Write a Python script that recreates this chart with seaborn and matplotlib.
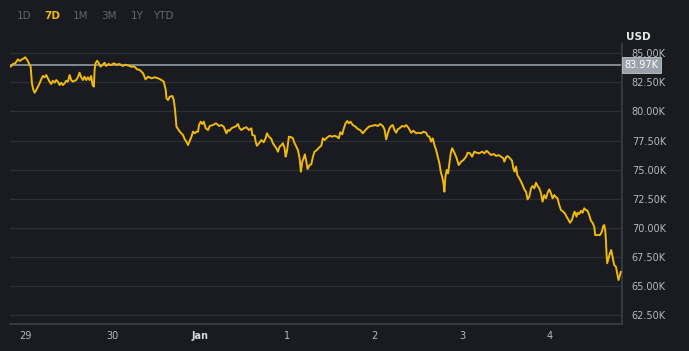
import numpy as np
import pandas as pd
import matplotlib
matplotlib.use("Agg")
import matplotlib.pyplot as plt
import matplotlib.transforms as mtransforms
import seaborn as sns

# Hours since the "29" tick, and price in thousands of USD
hours = [
    -3.92, -3.29, -2.66, -1.92, -1.37, -0.82, -0.27, 0.08, 0.63, 1.10,
    1.56, 1.92, 2.27, 2.66, 3.10, 3.56, 4.03, 4.47, 4.93, 5.40,
    5.84, 6.30, 6.77, 7.21, 7.67, 8.14, 8.58, 9.04, 9.51, 9.95,
    10.41, 10.88, 11.32, 11.78, 12.25, 12.69, 13.15, 13.62, 14.06, 14.52,
    14.99, 15.43, 15.89, 16.36, 16.80, 17.26, 17.73, 18.17, 18.55, 18.91,
    19.10, 19.37, 19.81, 20.28, 20.74, 21.18, 21.84, 22.28, 22.93, 23.65,
    24.39, 25.02, 25.95, 26.85, 27.48, 28.22, 29.13, 30.06, 30.77, 31.51,
    32.41, 33.07, 33.78, 34.72, 35.62, 36.52, 37.46, 38.09, 38.63, 38.83,
    39.26, 39.73, 40.47, 40.83, 41.18, 41.57, 42.47, 43.37, 43.84, 44.31,
    44.74, 45.21, 45.68, 46.11, 46.58, 47.05, 47.48, 47.76, 48.22, 48.69,
    49.05, 49.59, 50.22, 50.69, 51.59, 52.33, 52.69, 53.24, 53.90, 54.53,
    55.27, 55.70, 56.17, 56.64, 57.27, 58.01, 58.44, 58.91, 59.38, 60.01,
    60.75, 61.46, 62.12, 62.39, 63.02, 63.29, 63.65, 64.20, 64.86, 65.49,
    66.03, 66.39, 66.94, 67.60, 68.03, 68.50, 68.97, 69.40, 69.87, 70.34,
    70.77, 71.24, 71.51, 71.87, 72.42, 73.08, 73.51, 73.98, 74.45, 74.88,
    75.35, 75.71, 76.09, 76.45, 76.80, 77.19, 77.54, 78.09, 78.56, 79.00,
    79.46, 80.09, 80.64, 81.30, 81.73, 82.20, 82.83, 83.57, 84.31, 84.94,
    85.57, 86.12, 86.50, 87.05, 87.49, 87.95, 88.42, 88.86, 89.33, 89.95,
    90.69, 91.32, 91.98, 92.69, 93.43, 94.34, 95.27, 96.17, 96.80, 97.46,
    98.17, 98.64, 99.11, 99.54, 100.01, 100.47, 100.91, 101.38, 101.85, 102.28,
    102.75, 103.49, 104.12, 104.59, 105.30, 105.96, 106.59, 107.33, 108.04, 108.70,
    109.33, 110.07, 110.50, 110.97, 111.44, 111.87, 112.34, 112.81, 113.24, 113.71,
    114.07, 114.45, 114.81, 115.08, 115.35, 115.71, 116.09, 116.45, 116.81, 117.19,
    117.55, 118.09, 118.45, 119.00, 119.66, 120.29, 121.03, 121.46, 122.12, 122.67,
    123.30, 123.93, 124.67, 125.41, 126.04, 126.67, 127.22, 127.88, 128.59, 129.25,
    129.96, 130.62, 131.25, 131.52, 131.99, 132.42, 133.08, 133.63, 133.99, 134.34,
    134.73, 135.08, 135.63, 136.10, 136.53, 137.00, 137.46, 137.90, 138.37, 138.84,
    139.27, 139.74, 140.21, 140.64, 141.11, 141.58, 142.01, 142.48, 142.95, 143.38,
    143.85, 144.32, 144.75, 145.22, 145.69, 146.12, 146.59, 147.06, 147.69, 148.23,
    148.59, 149.14, 149.52, 150.07, 150.43, 150.78, 151.33, 151.60, 152.07, 152.54,
    152.97, 153.44, 153.91, 154.34, 154.81, 155.28, 155.71, 156.18, 156.45, 157.08,
    157.74, 158.29, 158.65, 158.92, 159.19, 159.39, 159.55, 159.74, 160.10, 160.48,
    160.84, 161.19, 161.66, 162.13, 162.57, 162.84, 163.23, 163.50,
]
price_k = [
    83.85, 84.08, 84.14, 84.48, 84.34, 84.48, 84.57, 84.66, 84.42, 84.14,
    83.85, 82.42, 81.90, 81.61, 81.84, 82.13, 82.42, 82.76, 83.05, 82.94,
    83.13, 82.85, 82.56, 82.36, 82.64, 82.47, 82.70, 82.56, 82.27, 82.47,
    82.27, 82.42, 82.64, 82.56, 83.13, 82.70, 82.56, 82.64, 82.70, 82.94,
    83.33, 82.94, 82.70, 82.99, 82.70, 82.94, 82.70, 83.05, 82.27, 82.13,
    83.56, 84.14, 84.36, 84.14, 83.85, 83.99, 84.19, 83.91, 84.08, 83.99,
    84.14, 84.02, 84.08, 83.91, 84.02, 83.97, 83.85, 83.85, 83.62, 83.56,
    83.28, 82.76, 82.99, 82.85, 82.94, 82.85, 82.70, 82.56, 81.84, 81.13,
    80.98, 81.27, 81.33, 80.98, 80.12, 78.69, 78.26, 77.97, 77.60, 77.41,
    77.11, 77.48, 77.83, 78.26, 78.12, 78.26, 78.26, 78.83, 79.12, 78.92,
    79.12, 78.55, 78.40, 78.75, 78.83, 78.98, 78.92, 78.75, 78.83, 78.69,
    78.12, 78.40, 78.34, 78.55, 78.64, 78.75, 78.92, 78.55, 78.40, 78.55,
    78.64, 78.40, 78.55, 77.97, 77.91, 77.40, 77.05, 77.26, 77.54, 77.35,
    77.69, 78.12, 77.83, 77.63, 77.26, 77.05, 76.83, 76.54, 76.97, 77.11,
    77.26, 76.83, 76.11, 76.54, 77.83, 77.78, 77.69, 77.26, 76.97, 76.68,
    75.97, 74.82, 75.68, 75.97, 76.31, 75.68, 75.05, 75.39, 75.45, 76.11,
    76.54, 76.68, 76.88, 77.05, 77.69, 77.54, 77.74, 77.91, 77.83, 77.91,
    77.83, 77.69, 78.21, 78.03, 78.55, 78.98, 79.18, 78.98, 79.12, 78.83,
    78.69, 78.49, 78.40, 78.12, 78.40, 78.69, 78.77, 78.83, 78.75, 78.92,
    78.75, 78.46, 77.60, 78.12, 78.55, 78.75, 78.83, 78.40, 78.17, 78.46,
    78.55, 78.75, 78.69, 78.83, 78.55, 78.17, 78.34, 78.12, 78.17, 78.12,
    78.26, 78.17, 77.89, 77.83, 77.40, 77.69, 77.11, 76.68, 76.11, 75.54,
    74.82, 74.39, 73.82, 73.10, 74.39, 74.96, 74.68, 75.54, 76.40, 76.83,
    76.62, 76.25, 75.97, 75.39, 75.68, 75.82, 76.11, 76.45, 76.40, 76.11,
    76.54, 76.45, 76.40, 76.54, 76.40, 76.62, 76.45, 76.25, 76.34, 76.17,
    76.25, 76.11, 75.97, 75.68, 76.06, 76.17, 75.97, 75.76, 75.11, 74.82,
    75.25, 74.53, 74.25, 73.96, 73.67, 73.30, 73.10, 72.44, 72.67, 73.39,
    73.59, 73.39, 73.87, 73.59, 73.39, 72.96, 72.24, 72.81, 72.53, 73.01,
    73.30, 72.96, 72.53, 72.81, 72.62, 72.53, 71.95, 71.52, 71.38, 71.18,
    70.95, 70.66, 70.43, 70.66, 71.09, 71.38, 70.95, 71.29, 71.18, 71.46,
    71.29, 71.67, 71.52, 71.46, 71.09, 70.60, 70.43, 70.09, 69.37, 69.37,
    69.37, 69.66, 70.15, 70.23, 69.80, 68.94, 67.80, 66.94, 67.37, 67.80,
    68.08, 67.51, 66.79, 66.65, 65.93, 65.50, 65.93, 66.22,
]

day_ticks = [0, 24, 48, 72, 96, 120, 144]
day_labels = ["29", "30", "Jan", "1", "2", "3", "4"]
price_ticks = [62.5, 65.0, 67.5, 70.0, 72.5, 75.0, 77.5, 80.0, 82.5, 85.0]
last_price = 83.97
ranges = ["1D", "7D", "1M", "3M", "1Y", "YTD"]

bg = "#1a1b20"
grid_col = "#2c2f36"
text_col = "#b4bac2"
yellow = "#f0b90b"

sns.set_theme(style="dark", rc={
    "figure.facecolor": bg,
    "axes.facecolor": bg,
    "axes.edgecolor": "#3a3e46",
    "text.color": text_col,
    "xtick.color": text_col,
    "ytick.color": text_col,
})
plt.rcParams["font.family"] = ["DejaVu Sans"]

df = pd.DataFrame({"hours": hours, "price": price_k})

fig = plt.figure(figsize=(6.89, 3.51), dpi=100)
ax = fig.add_axes([10 / 689, 1 - 324 / 351, 612 / 689, 280 / 351])

for p in price_ticks:
    ax.axhline(p, color=grid_col, lw=1.0, zorder=0)
ax.axhline(last_price, color="#8c929b", lw=1.3, zorder=1)

sns.lineplot(data=df, x="hours", y="price", color=yellow, lw=1.4, ax=ax, zorder=3)

ax.set_xlim(-4.1, 163.8)
ax.set_ylim(61.72, 85.8)
ax.set_xlabel("")
ax.set_ylabel("")
ax.grid(False)

for side in ["top", "left"]:
    ax.spines[side].set_visible(False)
ax.spines["right"].set_color("#3a3e46")
ax.spines["bottom"].set_color("#3a3e46")

ax.yaxis.tick_right()
ax.set_yticks(price_ticks)
ax.set_yticklabels([f"{p:.2f}K" for p in price_ticks])
ax.tick_params(axis="y", length=0, pad=7, labelsize=7, colors=text_col)
ax.set_xticks(day_ticks)
ax.set_xticklabels(day_labels)
ax.tick_params(axis="x", length=3, width=0.8, pad=2, labelsize=7, colors=text_col,
               direction="out")
for lbl in ax.get_xticklabels():
    if lbl.get_text() == "Jan":
        lbl.set_fontweight("bold")
        lbl.set_color("#d5d9de")

# current price tag on the right axis
trans = mtransforms.blended_transform_factory(ax.transAxes, ax.transData)
ax.text(1.004, last_price, f"{last_price:.2f}K", transform=trans, fontsize=7,
        color="white", va="center", ha="left", zorder=5,
        bbox=dict(boxstyle="square,pad=0.3", fc="#9ba1aa", ec="#c2c7ce", lw=0.6))

fig.text(638 / 689, 1 - 37 / 351, "USD", fontsize=7.5, fontweight="bold",
         color="#e6e8ea", ha="center", va="center")

xs = [24, 52, 81, 109, 137, 163]
for name, x in zip(ranges, xs):
    fig.text(x / 689, 1 - 16 / 351, name, fontsize=7.5,
             fontweight="bold" if name == "7D" else "normal",
             color=yellow if name == "7D" else "#5e6673", ha="center", va="center")

fig.savefig("out.png", dpi=100, facecolor=bg)
